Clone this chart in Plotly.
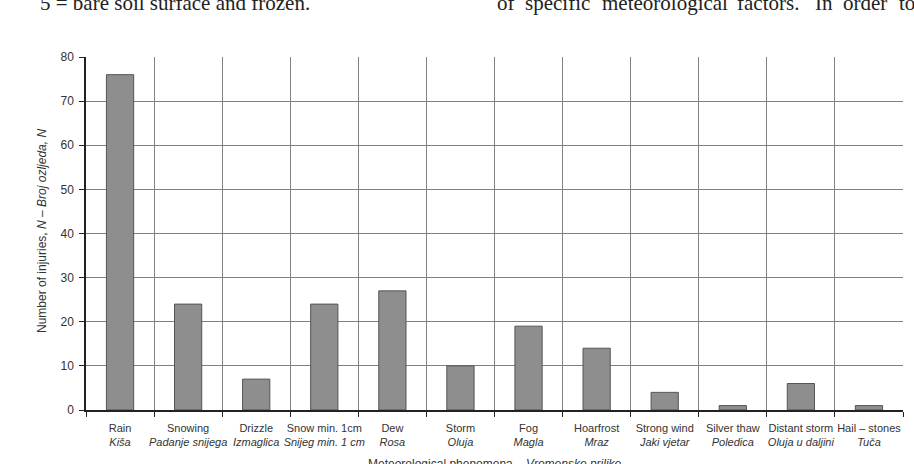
import plotly.graph_objects as go

cat_en = ["Rain", "Snowing", "Drizzle", "Snow min. 1cm", "Dew", "Storm", "Fog",
          "Hoarfrost", "Strong wind", "Silver thaw", "Distant storm", "Hail – stones"]
cat_hr = ["Kiša", "Padanje snijega", "Izmaglica", "Snijeg min. 1 cm", "Rosa", "Oluja", "Magla",
          "Mraz", "Jaki vjetar", "Poledica", "Oluja u daljini", "Tuča"]
injuries = [76, 24, 7, 24, 27, 10, 19, 14, 4, 1, 6, 1]

labels = [f"{e}<br><i>{h}</i>" for e, h in zip(cat_en, cat_hr)]

left_text = "5 = bare soil surface and frozen."
right_words = ["of", "specific", "meteorological", "factors.", "In", "order", "to"]
right_word_x = [495, 523, 600, 735, 813, 841, 897]

W, H = 914, 464
L, R, T, B = 86, 11, 57, 54
ph = H - T - B

def py(p):
    return (H - B - p) / ph

def px(p):
    return (p - L) / (W - L - R)

fig = go.Figure(go.Bar(
    x=labels, y=injuries, width=0.4,
    marker=dict(color="#8e8e8e", line=dict(color="#555555", width=1)),
))

font = "Liberation Sans, Arial, sans-serif"
serif = dict(family="Liberation Serif, serif", size=21, color="#222")
ann = [
    dict(text="Number of injuries, <i>N</i> – <i>Broj ozljeda, N</i>", textangle=-90,
         xref="paper", yref="paper", x=px(42), y=py(231), showarrow=False,
         font=dict(size=12, color="#333"), xanchor="center", yanchor="middle"),
    dict(text="Meteorological phenomena – <i>Vremenske prilike</i>",
         xref="paper", yref="paper", x=0.5, y=py(464), showarrow=False,
         font=dict(size=12, color="#333"), xanchor="center", yanchor="middle"),
    dict(text=left_text, xref="paper", yref="paper", x=px(38), y=py(3), showarrow=False,
         font=serif, xanchor="left", yanchor="middle"),
]
for w, xx in zip(right_words, right_word_x):
    ann.append(dict(text=w, xref="paper", yref="paper", x=px(xx), y=py(3), showarrow=False,
                    font=serif, xanchor="left", yanchor="middle"))

fig.update_layout(
    width=W, height=H, margin=dict(l=L, r=R, t=T, b=B),
    paper_bgcolor="white", plot_bgcolor="white",
    showlegend=False, bargap=0.6,
    font=dict(family=font, size=11, color="#333333"),
    xaxis=dict(type="category", tickson="boundaries", ticks="outside", ticklen=5,
               tickcolor="#222", showline=True, linecolor="#222", linewidth=1.5,
               showgrid=True, gridcolor="#808080", gridwidth=1, tickangle=0,
               automargin=False, ticklabelstandoff=7,
               tickfont=dict(size=11, color="#333"), range=[-0.5, 11.5]),
    yaxis=dict(range=[0, 80], dtick=10, ticks="outside", ticklen=5, tickcolor="#222",
               showline=True, linecolor="#222", linewidth=1.5, automargin=False,
               ticklabelstandoff=3,
               showgrid=True, gridcolor="#808080", gridwidth=1,
               tickfont=dict(size=12, color="#333"), zeroline=False),
    annotations=ann,
)

fig.write_html("out.html")
